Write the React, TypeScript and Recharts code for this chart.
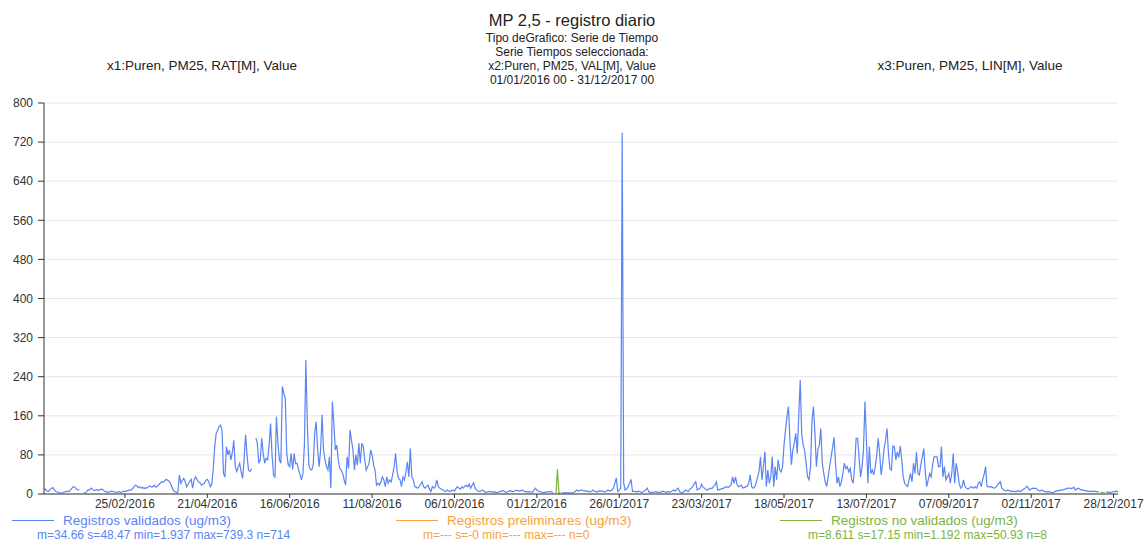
import { CartesianGrid, Line, LineChart, XAxis, YAxis } from "recharts";

// daily PM2.5 (ug/m3), validated records, one array per month
const jan16 = [8, 10, 6, 5, 9, 11, 13, 9, 5, 4, 3, 2, 2, 3, 4, 5, 6, 5, 8, 12, 15, 14, 10, 9, 8, null, null, 2.5, 1.937, 5, 9];
const feb16 = [8, 12, 10, 7, 8, 9, 7, 9, 10, 9, 6, 5, 3, 4, 5, 6, 5, 4, 3, 4, 5, 3, 4, 6, 5, 6, 7, 8, 8];
const mar16 = [10, 14, 18, 17, 13, 15, 12, 14, 11, 13, 12, 15, 17, 14, 15, 18, 14, 16, 19, 22, 25, 24, 27, 30, 28, 26, 22, 14, 7, 5, 3];
const apr16 = [4, 39, 22, 28, 32, 25, 15, 20, 26, 30, 12, 29, 35, 30, 25, 23, 18, 20, 22, 28, 30, 25, 15, 20, 49, 95, 124, 130, 138, 141];
const may16 = [131, 42, 35, 97, 80, 90, 70, 85, 110, 56, 46, 55, 63, 45, 32, 70, 121, 80, 49, 46, 52, null, null, 114, 104, 63, 70, 114, 83, 63, 73];
const jun16 = [70, 100, 144, 80, 39, 35, 158, 104, 70, 63, 220, 206, 196, 83, 60, 56, 83, 50, 83, 62, 63, 50, 40, 29, 42, 100, 274, 140, 60, 50];
const jul16 = [49, 60, 124, 148, 90, 56, 90, 162, 90, 70, 56, 49, 76, 12, 189, 145, 90, 100, 70, 52, 49, 42, 29, 18, 76, 52, 131, 110, 90, 49, 80];
const aug16 = [59, 104, 63, 104, 97, 70, 49, 56, 63, 90, 80, 60, 49, 18, 22, 18, 25, 35, 29, 15, 35, 22, 29, 25, 40, 56, 83, 46, 32, 29, 15];
const sep16 = [35, 29, 45, 66, 35, 93, 35, 29, 15, 14, 12, 15, 20, 25, 15, 12, 15, 18, 10, 5, 15, 12, 15, 29, 15, 12, 10, 8, 6, 5];
const oct16 = [8, 6, 5, 7, 8, 6, 11, 15, 12, 10, 15, 12, 16, 18, 15, 20, 12, 18, 23, 12, 8, 6, 5, 6, 8, 6, 3, 4, 5, 5, 5];
const nov16 = [4, 5, 3, 3, 4, 5, 6, 7, 5, 3, 4, 6, 7, 5, 5, 6, 8, 7, 6, 7, 8, 6, 5, 5, 4, 5, 4, 3, 8, 12];
const dec16 = [8, 6, 5, 4, 3, 3, 4, 4, 5, 5, 4, 2, null, null, null, null, null, 2, 3, 2, 3, 2, 3, 2, 2, 3, 5, 8, 6, 7, 8];
const jan17 = [8, 6, 7, 5, 6, 4, 5, 8, 6, 5, 4, 6, 7, 5, 6, 4, 5, 8, 7, 6, 8, 12, 22, 33, 5, 8, 12, 739.3, 22, 8, 10];
const feb17 = [15, 22, 30, 5, 6, 5, 4, 6, 5, 3, 4, 6, 8, 12, 5, 3, 4, 3, 4, 5, 3, 4, 3, 5, 6, 4, 3, 5];
const mar17 = [4, 5, 6, 8, 6, 10, 12, 5, 3, 2.5, 5, 8, 6, 5, 10, 12, 15, 22, 25, 8, 10, 12, 20, 14, 12, 9, 8, 10, 12, 11, 15];
const apr17 = [18, 25, 8, 9, 10, 11, 12, 14, 15, 13, 16, 18, 35, 22, 35, 20, 15, 17, 18, 12, 13, 15, 16, 22, 39, 15, 12, 14, 22, 35];
const may17 = [45, 76, 29, 56, 87, 15, 49, 22, 35, 76, 15, 56, 29, 70, 49, 45, 56, 100, 131, 158, 179, 110, 60, 90, 105, 124, 83, 160, 233, 124, 100];
const jun17 = [90, 63, 35, 29, 56, 150, 179, 124, 56, 90, 100, 134, 63, 42, 25, 15, 35, 56, 76, 95, 116, 63, 22, 35, 15, 25, 42, 63, 52, 56];
const jul17 = [45, 52, 29, 22, 56, 114, 114, 76, 35, 55, 90, 189, 110, 22, 97, 42, 49, 39, 56, 80, 114, 83, 39, 63, 93, 110, 134, 83, 52, 49, 98];
const aug17 = [97, 70, 86, 75, 98, 70, 35, 22, 18, 15, 29, 42, 25, 63, 42, 86, 42, 39, 60, 76, 93, 46, 15, 29, 42, 35, 60, 76, 76, 76, 56];
const sep17 = [56, 97, 35, 56, 29, 35, 42, 22, 42, 83, 22, 63, 46, 22, 12, 15, 29, 15, 12, 10, 12, 15, 14, 12, 15, 12, 22, 25, 15, 29];
const oct17 = [40, 56, 15, 15, 14, 15, 13, 12, 14, 18, 22, 25, 12, 9, 7, 6, 8, 7, 6, 5, 6, 5, 5, 7, 6, 5, 8, 10, 12, 16, 12];
const nov17 = [8, 10, 12, 11, 12, 10, 7, 6, 8, 7, 5, 5, 4, 5, 4, 3, 3, 5, 6, 7, 7, 8, 8, 9, 10, 11, 12, 12, 11, 12];
const dec17 = [14, 8, 10, 12, 10, 8, 9, 7, 7, 6, 5, 6, 6, 5, 6, 5, 5, 4, null, null, null, null, 5, 3, 4, 3, 4, 5, 5, 6, 5];

// non validated records
const noValidFechas = ["14/12/2016", "15/12/2016", "16/12/2016", "17/12/2016", "19/12/2017", "20/12/2017", "21/12/2017", "22/12/2017"];
const noValidValores = [1.5, 50.93, 1.192, 3.0, 3.5, 2.8, 2.6, 3.0];

const xTickFechas = [
  "25/02/2016", "21/04/2016", "16/06/2016", "11/08/2016", "06/10/2016", "01/12/2016", "26/01/2017",
  "23/03/2017", "18/05/2017", "13/07/2017", "07/09/2017", "02/11/2017", "28/12/2017",
];
const yTicks = [0, 80, 160, 240, 320, 400, 480, 560, 640, 720, 800];

const validados = [
  ...jan16, ...feb16, ...mar16, ...apr16, ...may16, ...jun16, ...jul16, ...aug16, ...sep16, ...oct16, ...nov16, ...dec16,
  ...jan17, ...feb17, ...mar17, ...apr17, ...may17, ...jun17, ...jul17, ...aug17, ...sep17, ...oct17, ...nov17, ...dec17,
];

const DAY = 86400000;
const START = Date.UTC(2016, 0, 1);
const toDay = (s: string) => {
  const [d, m, y] = s.split("/").map(Number);
  return Math.round((Date.UTC(y, m - 1, d) - START) / DAY);
};
const pad = (n: number) => String(n).padStart(2, "0");
const fmtDay = (v: number) => {
  const dt = new Date(START + v * DAY);
  return `${pad(dt.getUTCDate())}/${pad(dt.getUTCMonth() + 1)}/${dt.getUTCFullYear()}`;
};

const greenByDay = new Map(noValidFechas.map((f, i) => [toDay(f), noValidValores[i]]));
const rows = validados.map((v, i) => ({ day: i, v, g: greenByDay.has(i) ? greenByDay.get(i) : null }));
const xTicks = xTickFechas.map(toDay);

const font = '"Liberation Sans", Arial, sans-serif';
const BLUE = "#5b84f5";
const ORANGE = "#f7a23e";
const GREEN = "#7cb342";

const abs = (left: number, top: number, width: number, extra = {}) => ({
  position: "absolute" as const,
  left,
  top,
  width,
  textAlign: "center" as const,
  whiteSpace: "nowrap" as const,
  ...extra,
});

function LegendItem({ x, color, label, stats, statsX }: { x: number; color: string; label: string; stats: string; statsX: number }) {
  return (
    <>
      <div style={{ position: "absolute", left: x, top: 520, width: 42, height: 1, background: color }} />
      <div style={{ position: "absolute", left: x + 51, top: 513, fontSize: 13.5, color, whiteSpace: "nowrap" }}>{label}</div>
      <div style={{ position: "absolute", left: statsX, top: 528, fontSize: 12, color, whiteSpace: "nowrap" }}>{stats}</div>
    </>
  );
}

export default function App() {
  return (
    <div style={{ position: "absolute", left: 0, top: 0, width: 1144, height: 542, background: "#fff", fontFamily: font, color: "#222" }}>
      <div style={abs(372, 11, 400, { fontSize: 16.5, lineHeight: "19px" })}>MP 2,5 - registro diario</div>
      <div style={abs(372, 31, 400, { fontSize: 12, lineHeight: "14px" })}>
        Tipo deGrafico: Serie de Tiempo
        <br />
        Serie Tiempos seleccionada:
        <br />
        x2:Puren, PM25, VAL[M], Value
        <br />
        01/01/2016 00 - 31/12/2017 00
      </div>
      <div style={abs(52, 58, 300, { fontSize: 13.5, lineHeight: "15px" })}>x1:Puren, PM25, RAT[M], Value</div>
      <div style={abs(820, 58, 300, { fontSize: 13.5, lineHeight: "15px" })}>x3:Puren, PM25, LIN[M], Value</div>

      <LineChart width={1144} height={542} data={rows} margin={{ top: 103, right: 26, bottom: 18, left: 0 }}>
        <CartesianGrid vertical={false} stroke="#e6e6e6" />
        <XAxis
          dataKey="day"
          type="number"
          domain={[0, 730]}
          ticks={xTicks}
          interval={0}
          tickFormatter={fmtDay}
          stroke="#333"
          tick={{ fill: "#333", fontSize: 12, fontFamily: font }}
          tickSize={4}
          tickMargin={1}
          height={30}
        />
        <YAxis
          domain={[0, 800]}
          ticks={yTicks}
          interval={0}
          width={44}
          stroke="#333"
          tick={{ fill: "#333", fontSize: 12, fontFamily: font }}
          tickSize={6}
          tickMargin={5}
        />
        <Line dataKey="v" stroke={BLUE} strokeWidth={1.2} dot={false} isAnimationActive={false} />
        <Line dataKey="g" stroke={GREEN} strokeWidth={1.2} dot={false} isAnimationActive={false} />
      </LineChart>

      <LegendItem x={12} color={BLUE} label="Registros validados (ug/m3)" statsX={37} stats="m=34.66 s=48.47 min=1.937 max=739.3 n=714" />
      <LegendItem x={396} color={ORANGE} label="Registros preliminares (ug/m3)" statsX={423} stats="m=--- s=-0 min=--- max=--- n=0" />
      <LegendItem x={780} color={GREEN} label="Registros no validados (ug/m3)" statsX={808} stats="m=8.611 s=17.15 min=1.192 max=50.93 n=8" />
    </div>
  );
}
